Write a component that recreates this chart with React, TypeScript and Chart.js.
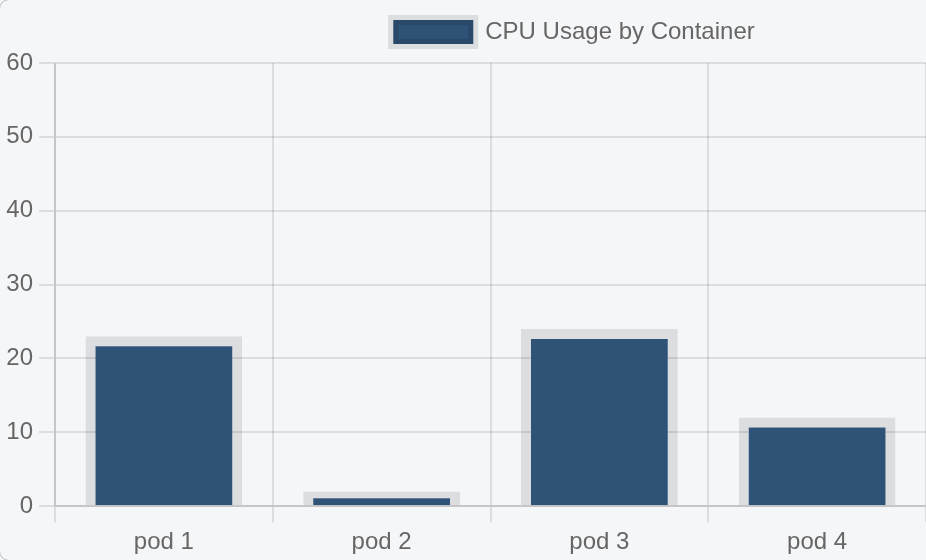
import React, { useEffect, useRef } from "react";
import { Chart, registerables } from "chart.js";

Chart.register(...registerables);

const categories: string[] = ["pod 1", "pod 2", "pod 3", "pod 4"];
const cpuUsage: number[] = [23, 2, 24, 12];
const seriesLabel = "CPU Usage by Container";
const yTicksMax = 60;
const yTickStep = 10;

const legendShift = {
  id: "legendShift",
  beforeDraw(chart: any) {
    const lg = chart.legend;
    if (lg && !lg._shifted) {
      lg.left += 222;
      lg.top -= 9;
      lg.bottom -= 9;
      lg._shifted = true;
    }
  },
  afterUpdate(chart: any) {
    if (chart.legend) chart.legend._shifted = false;
  },
};

export default function App() {
  const canvasRef = useRef<HTMLCanvasElement | null>(null);

  useEffect(() => {
    document.body.style.margin = "0";
    document.body.style.background = "#f5f6f8";
    const canvas = canvasRef.current;
    if (!canvas) return;
    const font = { family: "'Liberation Sans', Arial, Helvetica, sans-serif", size: 24 };
    const chart = new Chart(canvas, {
      type: "bar",
      data: {
        labels: categories,
        datasets: [
          {
            label: seriesLabel,
            data: cpuUsage,
            backgroundColor: "#2f5277",
            borderColor: "rgba(0,0,0,0.1)",
            borderWidth: 10,
          },
        ],
      },
      plugins: [legendShift],
      options: {
        responsive: true,
        maintainAspectRatio: false,
        animation: false,
        color: "#666",
        font,
        layout: { padding: { top: 9 } },
        plugins: {
          legend: {
            display: true,
            labels: {
              boxWidth: 80,
              boxHeight: 24,
              padding: 20,
              color: "#666",
              font,
            },
          },
          tooltip: { enabled: false },
        },
        scales: {
          x: {
            grid: { color: "rgba(0,0,0,0.1)", lineWidth: 2, tickLength: 16 },
            border: { color: "rgba(0,0,0,0.1)", width: 2 },
            ticks: { color: "#666", font, padding: 6 },
          },
          y: {
            min: 0,
            max: yTicksMax,
            ticks: { stepSize: yTickStep, color: "#666", font, padding: 6 },
            grid: { color: "rgba(0,0,0,0.1)", lineWidth: 2, tickLength: 16 },
            border: { color: "rgba(0,0,0,0.1)", width: 2 },
            afterFit: (scale: any) => {
              scale.width = 55;
            },
          },
        },
      },
    });
    return () => chart.destroy();
  }, []);

  return (
    <div
      style={{
        position: "fixed",
        left: 0,
        top: 0,
        width: 926,
        height: 560,
        overflow: "hidden",
        background: "#f5f6f8",
      }}
    >
      <div
        style={{
          position: "absolute",
          left: -1,
          top: -1,
          width: 940,
          height: 562,
          border: "1px solid #b8b8b8",
          borderRadius: "10px 0 0 10px",
          boxSizing: "border-box",
        }}
      />
      <div style={{ position: "absolute", left: 0, top: 0, width: 926, height: 563 }}>
        <canvas ref={canvasRef} />
      </div>
    </div>
  );
}
